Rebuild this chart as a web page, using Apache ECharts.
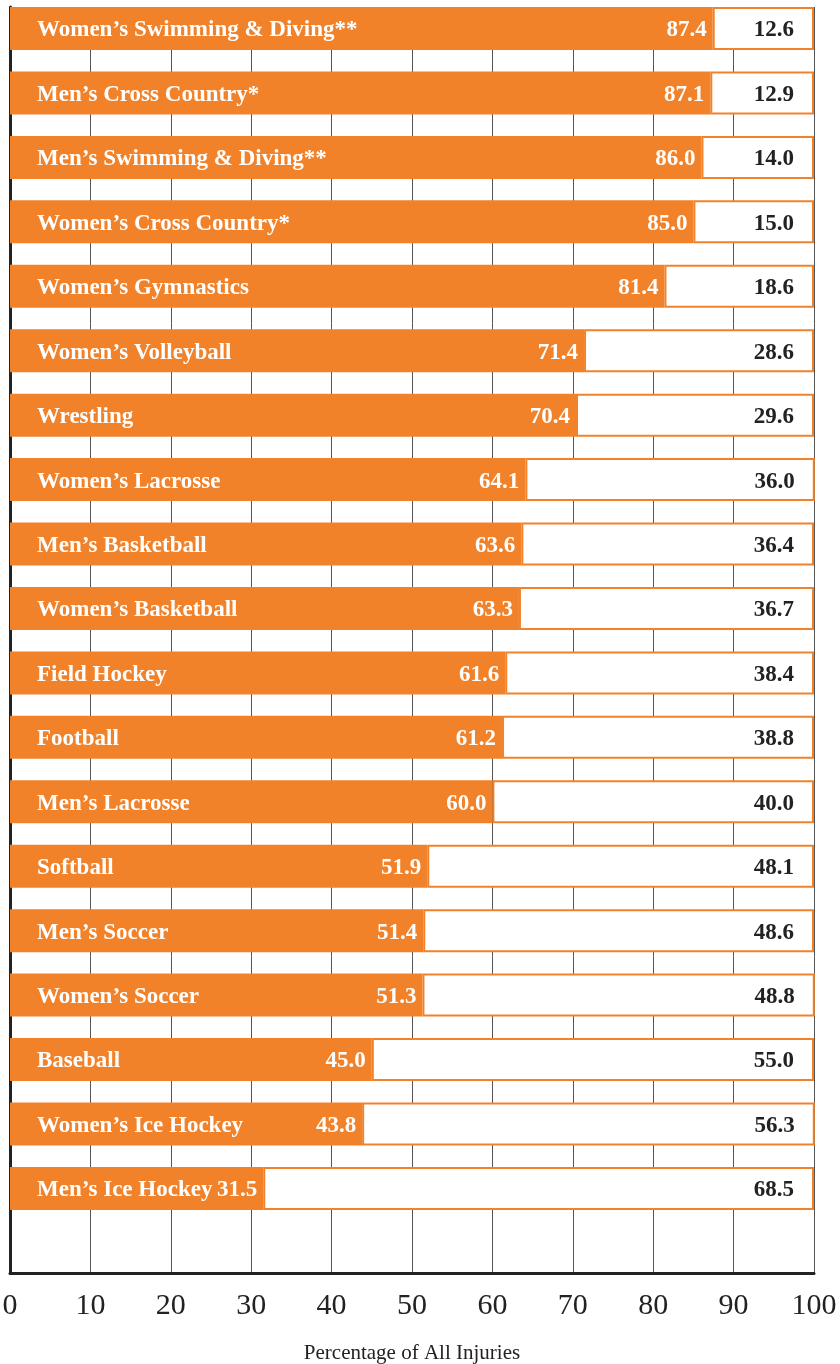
<!DOCTYPE html>
<html lang="en">
<head>
    <meta charset="UTF-8">
    <title>Percentage of All Injuries</title>
    <script src="https://cdn.jsdelivr.net/npm/echarts@6/dist/echarts.min.js"></script>
    <style>
        html, body { margin: 0; padding: 0; background: #fff; }
    </style>
</head>
<body>
    <div id="echarts" style="width: 840px; height: 1364px;"></div>
    <script>
        const sports = [
            'Women’s Swimming & Diving**', 'Men’s Cross Country*', 'Men’s Swimming & Diving**',
            'Women’s Cross Country*', 'Women’s Gymnastics', 'Women’s Volleyball', 'Wrestling',
            'Women’s Lacrosse', 'Men’s Basketball', 'Women’s Basketball', 'Field Hockey',
            'Football', 'Men’s Lacrosse', 'Softball', 'Men’s Soccer', 'Women’s Soccer',
            'Baseball', 'Women’s Ice Hockey', 'Men’s Ice Hockey'
        ];
        const firstPart = [87.4, 87.1, 86.0, 85.0, 81.4, 71.4, 70.4, 64.1, 63.6, 63.3, 61.6, 61.2, 60.0, 51.9, 51.4, 51.3, 45.0, 43.8, 31.5];
        const secondPart = [12.6, 12.9, 14.0, 15.0, 18.6, 28.6, 29.6, 36.0, 36.4, 36.7, 38.4, 38.8, 40.0, 48.1, 48.6, 48.8, 55.0, 56.3, 68.5];
        const xTicks = [0, 10, 20, 30, 40, 50, 60, 70, 80, 90, 100];

        const orange = '#f1822a';
        const serif = '"Liberation Serif", "Times New Roman", serif';
        const band = 64.44; // height of one category row

        const myChart = echarts.init(document.querySelector('#echarts'));
        const option = {
            animation: false,
            grid: [
                // frame + vertical grid lines
                { left: 10, right: 26, top: 7, bottom: 91, outerBoundsMode: 'none' },
                // bars
                { left: 10, right: 26, top: 7 - (band - 43) / 2, height: band * sports.length, outerBoundsMode: 'none' }
            ],
            xAxis: [
                {
                    gridIndex: 0,
                    type: 'value',
                    min: xTicks[0],
                    max: xTicks[xTicks.length - 1],
                    interval: 10,
                    axisLine: { show: true, lineStyle: { color: '#222', width: 3 } },
                    axisTick: { show: false },
                    splitLine: { show: true, lineStyle: { color: '#555', width: 1 } },
                    axisLabel: { fontFamily: serif, fontSize: 30, color: '#222', margin: 18 },
                    name: 'Percentage of All Injuries',
                    nameLocation: 'middle',
                    nameGap: 70,
                    nameTextStyle: { fontFamily: serif, fontSize: 21, color: '#222' }
                },
                { gridIndex: 1, type: 'value', min: 0, max: 100, show: false }
            ],
            yAxis: [
                {
                    gridIndex: 0,
                    type: 'value',
                    axisLine: { show: true, lineStyle: { color: '#222', width: 3 } },
                    axisTick: { show: false },
                    axisLabel: { show: false },
                    splitLine: { show: false }
                },
                { gridIndex: 1, type: 'category', inverse: true, data: sports, show: false }
            ],
            series: [
                {
                    type: 'bar',
                    xAxisIndex: 1,
                    yAxisIndex: 1,
                    stack: 'total',
                    barWidth: 43,
                    data: firstPart,
                    itemStyle: { color: orange },
                    label: {
                        show: true,
                        position: 'insideRight',
                        distance: 6,
                        offset: [0, 2],
                        formatter: p => p.value.toFixed(1),
                        fontFamily: serif, fontWeight: 'bold', fontSize: 23, color: '#fff'
                    }
                },
                {
                    type: 'bar',
                    xAxisIndex: 1,
                    yAxisIndex: 1,
                    stack: 'total',
                    barWidth: 43,
                    data: secondPart,
                    itemStyle: { color: '#fff', borderColor: orange, borderWidth: 2 },
                    label: {
                        show: true,
                        position: 'insideRight',
                        distance: 20,
                        offset: [0, 2],
                        formatter: p => p.value.toFixed(1),
                        fontFamily: serif, fontWeight: 'bold', fontSize: 23, color: '#222'
                    }
                },
                {
                    // sport names, drawn over the orange part
                    type: 'bar',
                    xAxisIndex: 1,
                    yAxisIndex: 1,
                    barWidth: 43,
                    barGap: '-100%',
                    z: 5,
                    data: firstPart,
                    itemStyle: { color: 'rgba(0,0,0,0)' },
                    label: {
                        show: true,
                        position: 'insideLeft',
                        distance: 27,
                        offset: [0, 2],
                        formatter: p => p.name,
                        fontFamily: serif, fontWeight: 'bold', fontSize: 23, color: '#fff'
                    }
                }
            ]
        };
        myChart.setOption(option);
    </script>
</body>
</html>
